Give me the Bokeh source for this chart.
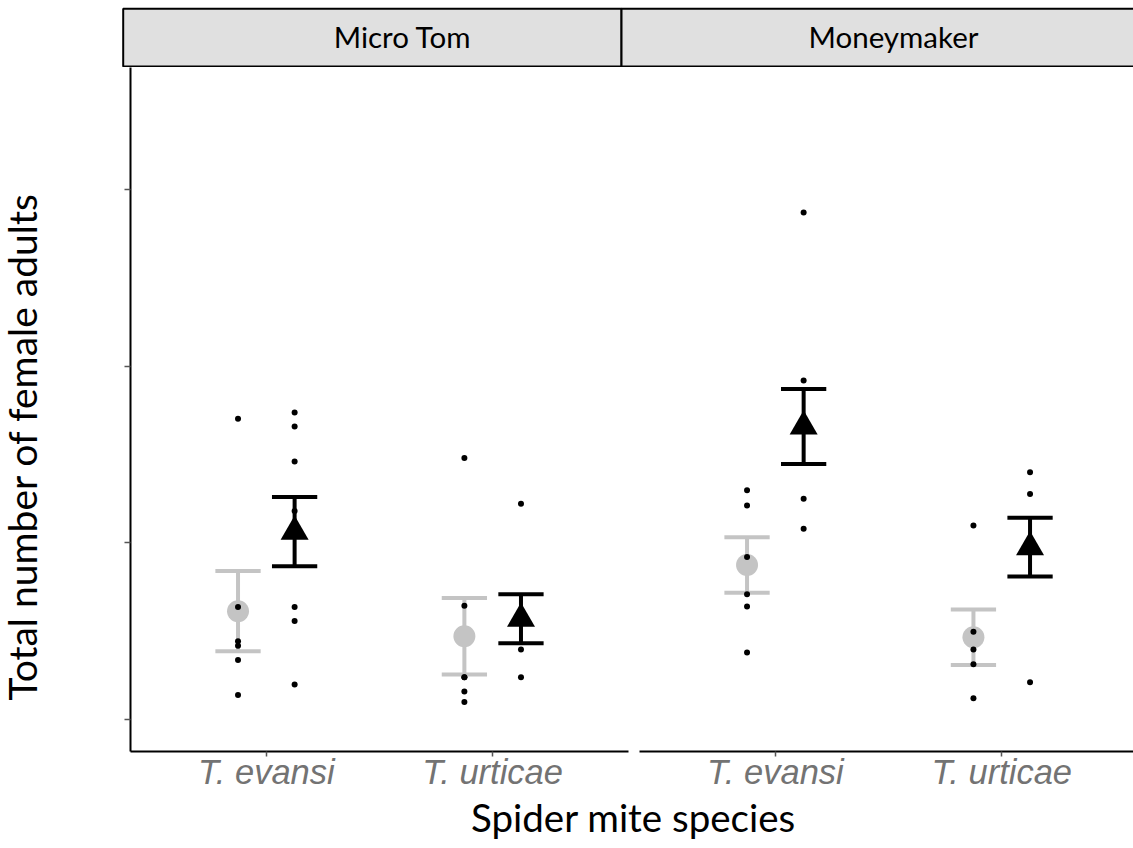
import math
from bokeh.plotting import figure
from bokeh.layouts import column, row
from bokeh.models import Range1d, FixedTicker, ColumnDataSource
from bokeh.core.properties import value
from bokeh.embed import file_html
from bokeh.resources import INLINE

# ---------------- data ----------------
facets = ["Micro Tom", "Moneymaker"]
species = ["T. evansi", "T. urticae"]
y_ticks = [0, 50, 100, 150]

# individual replicates (grey = control group, black = treatment group)
mt_evansi_grey = [85.1, 31.9, 22.2, 20.9, 16.9, 7.0]
mt_evansi_black = [86.9, 82.9, 73.0, 59.0, 31.9, 27.9, 10.0]
mt_urticae_grey = [74.0, 32.2, 12.0, 12.0, 8.0, 5.0]
mt_urticae_black = [61.1, 19.9, 12.0]
mm_evansi_grey = [64.9, 60.6, 46.0, 35.5, 32.0, 19.0]
mm_evansi_black = [143.4, 95.9, 62.5, 54.0]
mm_urticae_grey = [54.9, 24.9, 19.9, 15.7, 6.1]
mm_urticae_black = [70.0, 63.8, 10.6]

# group means and standard errors, per facet: [T. evansi, T. urticae]
grey_mean = {"Micro Tom": [30.7, 23.6], "Moneymaker": [43.75, 23.35]}
grey_se = {"Micro Tom": [11.35, 10.8], "Moneymaker": [7.85, 7.85]}
black_mean = {"Micro Tom": [53.2, 28.55], "Moneymaker": [82.9, 48.8]}
black_se = {"Micro Tom": [9.8, 6.95], "Moneymaker": [10.6, 8.3]}

raw = {
    "Micro Tom": {"grey": [mt_evansi_grey, mt_urticae_grey], "black": [mt_evansi_black, mt_urticae_black]},
    "Moneymaker": {"grey": [mm_evansi_grey, mm_urticae_grey], "black": [mm_evansi_black, mm_urticae_black]},
}

# ---------------- style ----------------
GREY = "#c4c4c4"
TITLE_FONT = "Lato"
DODGE = 0.125
CAP = 0.1
Y_RANGE = (-8.97, 184.4)
W, H = 1133, 848
STRIP_H = 67
PANEL_H = 726
FRAME_H = 686
YT_W = 108


def style_common(p):
    p.grid.visible = False
    p.outline_line_color = None
    p.background_fill_color = "white"
    p.border_fill_color = "white"


def decor_fig(w, h):
    p = figure(width=w, height=h, x_range=Range1d(0, w), y_range=Range1d(0, h),
               output_backend="svg", toolbar_location=None,
               x_axis_location=None, y_axis_location=None,
               min_border_left=0, min_border_right=0, min_border_top=0, min_border_bottom=0)
    style_common(p)
    return p


def panel(facet, width, x_end, min_left, min_right, show_y):
    p = figure(width=width, height=PANEL_H,
               x_range=Range1d(0.4, x_end), y_range=Range1d(*Y_RANGE),
               output_backend="svg", toolbar_location=None,
               y_axis_location="left" if show_y else None,
               min_border_left=min_left, min_border_right=min_right,
               min_border_top=0, min_border_bottom=PANEL_H - FRAME_H)
    style_common(p)
    ax = p.xaxis[0]
    ax.ticker = FixedTicker(ticks=[1, 2])
    ax.major_label_overrides = {1: species[0], 2: species[1]}
    ax.major_label_text_font = "Liberation Sans"
    ax.major_label_text_font_style = "italic"
    ax.major_label_text_font_size = "34.5px"
    ax.major_label_text_color = "#737373"
    ax.major_label_standoff = -4
    ax.axis_line_width = 2
    ax.axis_line_color = "black"
    ax.major_tick_out = 5
    ax.major_tick_in = 0
    ax.major_tick_line_color = "#555555"
    ax.major_tick_line_width = 1.5
    ax.minor_tick_line_color = None
    if show_y:
        ay = p.yaxis[0]
        ay.ticker = FixedTicker(ticks=y_ticks)
        ay.major_label_overrides = {t: "" for t in y_ticks}
        ay.major_label_standoff = 0
        ay.axis_line_width = 2
        ay.axis_line_color = "black"
        ay.major_tick_out = 6
        ay.major_tick_in = 0
        ay.major_tick_line_color = "#555555"
        ay.major_tick_line_width = 1.5
        ay.minor_tick_line_color = None

    for grp, off, col in (("grey", -DODGE, GREY), ("black", DODGE, "black")):
        means = grey_mean[facet] if grp == "grey" else black_mean[facet]
        ses = grey_se[facet] if grp == "grey" else black_se[facet]
        xs = [i + 1 + off for i in range(len(species))]
        lo = [m - s for m, s in zip(means, ses)]
        hi = [m + s for m, s in zip(means, ses)]
        src = ColumnDataSource(dict(x=xs, m=means, lo=lo, hi=hi,
                                    xl=[x - CAP for x in xs], xr=[x + CAP for x in xs]))
        p.segment(x0="x", y0="lo", x1="x", y1="hi", source=src, line_color=col, line_width=4)
        p.segment(x0="xl", y0="hi", x1="xr", y1="hi", source=src, line_color=col, line_width=4)
        p.segment(x0="xl", y0="lo", x1="xr", y1="lo", source=src, line_color=col, line_width=4)
        if grp == "grey":
            p.scatter(x="x", y="m", source=src, marker="circle", size=22,
                      fill_color=GREY, line_color=None)
        else:
            p.scatter(x="x", y="m", source=src, marker="triangle", size=28,
                      fill_color="black", line_color=None)

    for grp, off in (("grey", -DODGE), ("black", DODGE)):
        dx, dy = [], []
        for i, vals in enumerate(raw[facet][grp]):
            dx += [i + 1 + off] * len(vals)
            dy += vals
        p.scatter(x=dx, y=dy, marker="circle", size=6, fill_color="black", line_color=None)
    return p


# ---------------- layout ----------------
strip = decor_fig(W, STRIP_H)
strip.quad(left=[122.7, 621], right=[621, 1175], bottom=[1, 1], top=[58.7, 58.7],
           fill_color="#e0e0e0", line_color="black", line_width=2)
strip.text(x=[402, 893], y=[31.3, 31.3], text=facets, text_font=value(TITLE_FONT),
           text_font_size="29.5px", text_color="black", text_align="center",
           text_baseline="alphabetic")

ytitle = decor_fig(YT_W, PANEL_H)
ytitle.text(x=[21.5], y=[54], text=["Total number of female adults"],
            angle=math.pi / 2, text_font=value(TITLE_FONT), text_font_size="39px",
            text_color="black", text_align="left", text_baseline="alphabetic")

left_w = 531
left = panel(facets[0], left_w, 2.6, 22, 11, True)
right_w = W - YT_W - left_w
right = panel(facets[1], right_w, 0.4 + right_w / 226.4, 0, 0, False)

xt_h = H - STRIP_H - PANEL_H
xtitle = decor_fig(W, xt_h)
xtitle.text(x=[633], y=[31.5], text=["Spider mite species"], text_font=value(TITLE_FONT),
            text_font_size="38.5px", text_color="black", text_align="center",
            text_baseline="alphabetic")

layout = column(strip, row(ytitle, left, right), xtitle)

open("out.html", "w").write(file_html(layout, INLINE))
